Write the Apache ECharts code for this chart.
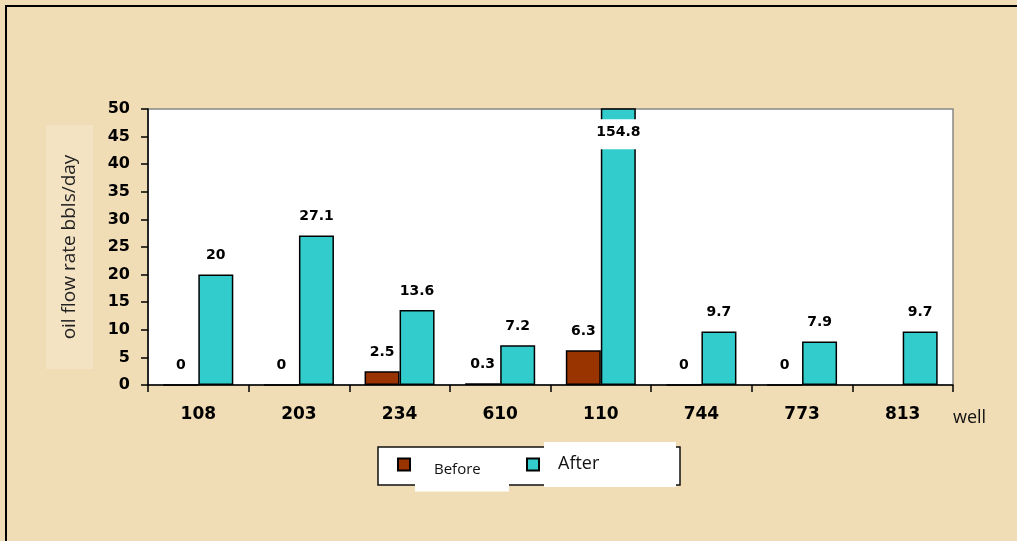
<!DOCTYPE html>
<html>
<head>
<meta charset="utf-8">
<script src="https://cdn.jsdelivr.net/npm/echarts@6/dist/echarts.min.js"></script>
<style>
    html, body { margin: 0; padding: 0; }
    #chart { width: 1017px; height: 541px; }
</style>
</head>
<body>
<div id="chart"></div>
<script>
// wells on the x axis
const wells = ['108', '203', '234', '610', '110', '744', '773', '813'];
// oil flow rate (bbls/day) before and after treatment, null = no bar
const beforeVals = [0, 0, 2.5, 0.3, 6.3, 0, 0, null];
const afterVals = [20, 27.1, 13.6, 7.2, 154.8, 9.7, 7.9, 9.7];
// y axis range
const yMin = 0;
const yMax = 50;
const yStep = 5;

const chart = echarts.init(document.getElementById('chart'));

const tickFont = 'DejaVu Sans';
const textFont = 'Open Sans';

// label used for a value larger than the axis max (bar is cut off)
const overflowLabel = {
    position: 'insideTop',
    distance: 11,
    backgroundColor: '#fff',
    padding: [6, 2, 10, 2]
};

const option = {
    backgroundColor: '#f0dcb5',
    animation: false,
    grid: {
        left: 148,
        right: 64,
        top: 109,
        bottom: 156,
        show: true,
        backgroundColor: '#fff',
        borderColor: '#888',
        borderWidth: 1.5
    },
    graphic: [
        // frame lines top / left
        {
            type: 'polyline',
            z: 1,
            shape: { points: [[6, 541], [6, 6], [1017, 6]] },
            style: { stroke: '#000', lineWidth: 2, fill: null }
        },
        // legend box
        {
            type: 'rect',
            z: 1,
            shape: { x: 378, y: 447, width: 302, height: 38 },
            style: { fill: '#fff', stroke: '#111', lineWidth: 1.5 }
        }
    ],
    legend: {
        z: 5,
        left: 397,
        top: 442,
        padding: 0,
        itemGap: 17,
        itemWidth: 12,
        itemHeight: 12,
        icon: 'rect',
        formatter: function (name) {
            return name === 'Before' ? '{b|Before}' : '{a|After}';
        },
        textStyle: {
            rich: {
                b: {
                    fontFamily: textFont,
                    fontSize: 15,
                    color: '#111',
                    backgroundColor: '#fff',
                    width: 51,
                    padding: [8, 24, 14, 19],
                    lineHeight: 54,
                    verticalAlign: 'bottom'
                },
                a: {
                    fontFamily: textFont,
                    fontSize: 18,
                    color: '#111',
                    backgroundColor: '#fff',
                    width: 118,
                    padding: [13, 0, 14, 14]
                }
            }
        }
    },
    xAxis: {
        type: 'category',
        data: wells,
        name: 'well',
        nameLocation: 'end',
        nameGap: 0,
        nameTextStyle: {
            fontFamily: textFont,
            fontSize: 18,
            color: '#111',
            align: 'left',
            verticalAlign: 'top',
            padding: [24, 0, 0, 0]
        },
        axisLine: { lineStyle: { color: '#000', width: 1.5 } },
        axisTick: { show: true, length: 7, lineStyle: { color: '#000', width: 1.5 } },
        axisLabel: {
            margin: 21,
            fontFamily: tickFont,
            fontWeight: 'bold',
            fontSize: 17,
            color: '#000'
        }
    },
    yAxis: {
        type: 'value',
        min: yMin,
        max: yMax,
        interval: yStep,
        name: 'oil flow rate bbls/day',
        nameLocation: 'middle',
        nameGap: 55,
        nameTextStyle: {
            fontFamily: textFont,
            fontSize: 19,
            color: '#222',
            backgroundColor: 'rgba(248,236,212,0.45)',
            padding: [14, 30, 14, 30]
        },
        axisLine: { show: true, lineStyle: { color: '#000', width: 1.5 } },
        axisTick: { show: true, length: 7, lineStyle: { color: '#000', width: 1.5 } },
        splitLine: { show: false },
        axisLabel: {
            margin: 18,
            fontFamily: tickFont,
            fontWeight: 'bold',
            fontSize: 16,
            color: '#000'
        }
    },
    series: [
        {
            name: 'Before',
            type: 'bar',
            barWidth: 35,
            barGap: '0%',
            data: beforeVals.map(v => (v === null ? '-' : v)),
            itemStyle: { color: '#993300', borderColor: '#000', borderWidth: 1.5 },
            label: {
                show: true,
                position: 'top',
                distance: 12,
                fontFamily: tickFont,
                fontWeight: 'bold',
                fontSize: 14,
                color: '#000'
            }
        },
        {
            name: 'After',
            type: 'bar',
            barWidth: 35,
            barGap: '0%',
            data: afterVals.map(v => (v > yMax ? { value: v, label: overflowLabel } : v)),
            itemStyle: { color: '#33cccc', borderColor: '#000', borderWidth: 1.5 },
            label: {
                show: true,
                position: 'top',
                distance: 12,
                fontFamily: tickFont,
                fontWeight: 'bold',
                fontSize: 14,
                color: '#000'
            }
        }
    ]
};

chart.setOption(option);
</script>
</body>
</html>
